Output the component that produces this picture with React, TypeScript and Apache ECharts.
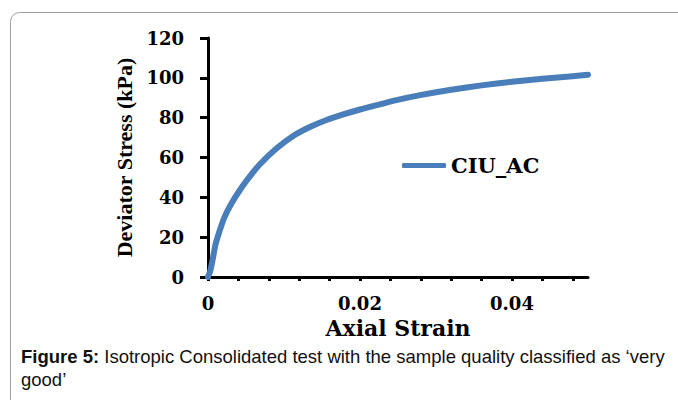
import React, { useEffect, useRef } from "react";
import * as echarts from "echarts";

const strain = [0, 0.0003, 0.0006, 0.001, 0.0016, 0.0022, 0.0031, 0.0042, 0.0053, 0.0068, 0.009, 0.0112, 0.0134, 0.0156, 0.0178, 0.02, 0.0222, 0.0248, 0.0279, 0.032, 0.036, 0.04, 0.044, 0.048, 0.05];
const stress = [0, 3, 8.5, 16.5, 24, 30.3, 37, 43.7, 49.5, 56.5, 64.5, 70.8, 75.3, 78.8, 81.6, 84.1, 86.3, 88.8, 91.3, 94, 96.2, 98, 99.5, 100.8, 101.5];
const xTicks = [0, 0.004, 0.008, 0.012, 0.016, 0.02, 0.024, 0.028, 0.032, 0.036, 0.04, 0.044, 0.048];
const xLabels = [0, 0.02, 0.04];
const seriesName = "CIU_AC";
const xName = "Axial Strain";
const yName = "Deviator Stress (kPa)";
const captionBold = "Figure 5:";
const captionLine1 = " Isotropic Consolidated test with the sample quality classified as \u2018very";
const captionLine2 = "good\u2019";

export default function App() {
  const ref = useRef<HTMLDivElement>(null);
  useEffect(() => {
    const chart = echarts.init(ref.current!, null, { renderer: "svg" });
    const wide = "'DejaVu Serif', serif";
    const sans = "'Liberation Sans', Arial, sans-serif";
    chart.setOption({
      animation: false,
      backgroundColor: "#ffffff",
      grid: { left: 208, top: 38, right: 90, bottom: 123 },
      legend: {
        left: 397,
        top: 150,
        icon: "roundRect",
        itemWidth: 44,
        itemHeight: 5,
        textStyle: { fontFamily: wide, fontWeight: "bold", fontSize: 21, color: "#000" },
        data: [seriesName],
      },
      xAxis: {
        type: "value",
        min: 0,
        max: 0.05,
        name: xName,
        nameLocation: "middle",
        nameGap: 37,
        nameTextStyle: { fontFamily: wide, fontWeight: "bold", fontSize: 22, color: "#000" },
        axisLine: { lineStyle: { color: "#000", width: 3 } },
        axisTick: { show: true, customValues: xTicks, length: 4, lineStyle: { color: "#000", width: 3 } },
        axisLabel: {
          customValues: xLabels,
          margin: 17,
          formatter: (v: number) => (v === 0 ? "0" : String(Number(v.toFixed(2)))),
          fontFamily: wide,
          fontWeight: "bold",
          fontSize: 18,
          color: "#000",
        },
        splitLine: { show: false },
      },
      yAxis: {
        type: "value",
        min: 0,
        max: 120,
        interval: 20,
        name: yName,
        nameLocation: "middle",
        nameGap: 70,
        nameTextStyle: { fontFamily: "'Liberation Serif', serif", fontWeight: "bold", fontSize: 22, color: "#000" },
        axisLine: { show: true, lineStyle: { color: "#000", width: 3 } },
        axisTick: { show: true, length: 8, lineStyle: { color: "#000", width: 3 } },
        axisLabel: { margin: 24, fontFamily: wide, fontWeight: "bold", fontSize: 18, color: "#000" },
        splitLine: { show: false },
      },
      series: [
        {
          name: seriesName,
          type: "line",
          data: strain.map((s, i) => [s, stress[i]]),
          showSymbol: false,
          symbol: "none",
          smooth: 0.2,
          lineStyle: { color: "#4a7ebb", width: 6, join: "round", cap: "round" },
          itemStyle: { color: "#4a7ebb" },
        },
      ],
      graphic: [
        {
          type: "rect",
          shape: { x: 10.5, y: 12.5, width: 720, height: 440, r: 9 },
          style: { fill: "none", stroke: "#a0a0a0", lineWidth: 1 },
          silent: true,
        },
        {
          type: "text",
          left: 21,
          top: 347,
          style: {
            text: "{b|" + captionBold + "}{n|" + captionLine1 + "}\n{n|" + captionLine2 + "}",
            rich: {
              b: { fontFamily: sans, fontWeight: "bold", fontSize: 18.5, lineHeight: 23, fill: "#111" },
              n: { fontFamily: sans, fontSize: 18.5, lineHeight: 23, fill: "#111" },
            },
          },
        },
      ],
    });
    return () => chart.dispose();
  }, []);
  return <div ref={ref} style={{ position: "fixed", left: 0, top: 0, width: 678, height: 400 }} />;
}
